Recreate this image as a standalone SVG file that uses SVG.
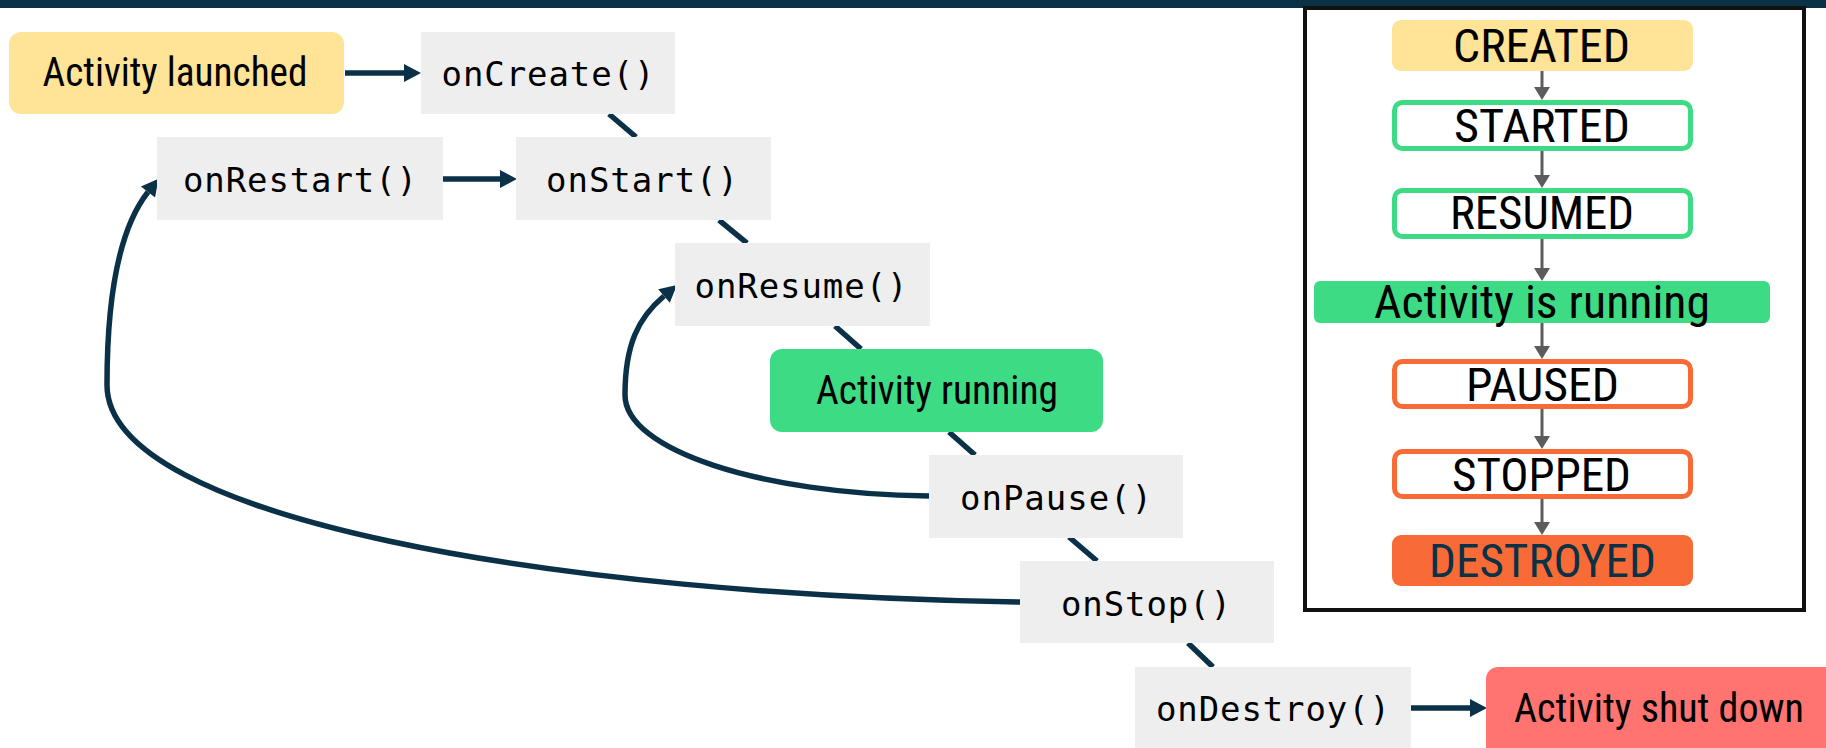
<svg xmlns="http://www.w3.org/2000/svg" width="1826" height="748" viewBox="0 0 1826 748">
  <style>
    .method rect { fill: #eeeeee; }
    .method text { font-family: "DejaVu Sans Mono", "Liberation Mono", monospace; font-size: 34px; fill: #000; text-anchor: middle; }
    .label { font-family: "Roboto Condensed", Roboto, "Liberation Sans", sans-serif; font-size: 40px; fill: #000; text-anchor: middle; }
    .state { font-family: "Roboto Condensed", Roboto, "Liberation Sans", sans-serif; font-size: 46px; fill: #000; text-anchor: middle; }
    .flow { fill: none; stroke: #0a3147; stroke-width: 5.5; }
    .step { fill: none; stroke: #5c5c5c; stroke-width: 3; }
    .green-outline { fill: #ffffff; stroke: #3ddc84; stroke-width: 5; }
    .orange-outline { fill: #ffffff; stroke: #f96b36; stroke-width: 5; }
  </style>
  <defs>
    <marker id="head" markerUnits="userSpaceOnUse" markerWidth="17" markerHeight="18" refX="0" refY="9" orient="auto" overflow="visible">
      <path d="M0,0 L17,9 L0,18 z" fill="#0a3147"/>
    </marker>
    <marker id="head-gray" markerUnits="userSpaceOnUse" markerWidth="16" markerHeight="16" refX="0" refY="8" orient="auto" overflow="visible">
      <path d="M0,0 L13,8 L0,16 z" fill="#5c5c5c"/>
    </marker>
  </defs>

  <rect x="0" y="0" width="1826" height="748" fill="#ffffff"/>
  <!-- header band -->
  <rect x="0" y="0" width="1826" height="8" fill="#0b3147"/>

  <!-- connectors -->
  <g id="connectors">
    <line class="flow" x1="609" y1="114" x2="636" y2="137"/>
    <line class="flow" x1="719" y1="220" x2="747" y2="243"/>
    <line class="flow" x1="835" y1="326" x2="861" y2="349"/>
    <line class="flow" x1="949" y1="432" x2="975" y2="455"/>
    <line class="flow" x1="1069" y1="537" x2="1097" y2="561"/>
    <line class="flow" x1="1188" y1="643" x2="1213" y2="667"/>
    <line class="flow" x1="345" y1="73" x2="404" y2="73" marker-end="url(#head)"/>
    <line class="flow" x1="443" y1="179" x2="500" y2="179" marker-end="url(#head)"/>
    <line class="flow" x1="1411" y1="708" x2="1470" y2="708" marker-end="url(#head)"/>
    <path class="flow" d="M1020,602 C560,595 107,520 107,385 C107,300 118,230 148,192" marker-end="url(#head)"/>
    <path class="flow" d="M929,496 C760,494 625,450 625,395 C625,345 638,318 664,296" marker-end="url(#head)"/>
  </g>

  <g id="activity-launched">
    <rect x="9" y="32" width="335" height="82" rx="12" fill="#ffe396"/>
    <text class="label" x="175" y="86" textLength="265" lengthAdjust="spacingAndGlyphs">Activity launched</text>
  </g>
  <g id="on-create" class="method">
    <rect x="421" y="32" width="254" height="82"/>
    <text x="548" y="86" textLength="213" lengthAdjust="spacing">onCreate()</text>
  </g>
  <g id="on-restart" class="method">
    <rect x="157" y="137" width="286" height="83"/>
    <text x="300" y="192" textLength="234" lengthAdjust="spacing">onRestart()</text>
  </g>
  <g id="on-start" class="method">
    <rect x="516" y="137" width="255" height="83"/>
    <text x="642" y="192" textLength="192" lengthAdjust="spacing">onStart()</text>
  </g>
  <g id="on-resume" class="method">
    <rect x="675" y="243" width="255" height="83"/>
    <text x="801" y="298" textLength="213" lengthAdjust="spacing">onResume()</text>
  </g>
  <g id="activity-running">
    <rect x="770" y="349" width="333" height="83" rx="12" fill="#3ddc84"/>
    <text class="label" x="937" y="404" textLength="242" lengthAdjust="spacingAndGlyphs">Activity running</text>
  </g>
  <g id="on-pause" class="method">
    <rect x="929" y="455" width="254" height="83"/>
    <text x="1056" y="510" textLength="192" lengthAdjust="spacing">onPause()</text>
  </g>
  <g id="on-stop" class="method">
    <rect x="1020" y="561" width="254" height="82"/>
    <text x="1146" y="616" textLength="170" lengthAdjust="spacing">onStop()</text>
  </g>
  <g id="on-destroy" class="method">
    <rect x="1135" y="667" width="276" height="90"/>
    <text x="1273" y="721" textLength="234" lengthAdjust="spacing">onDestroy()</text>
  </g>
  <g id="activity-shut-down">
    <rect x="1486" y="667" width="360" height="95" rx="12" fill="#ff7470"/>
    <text class="label" x="1659" y="722" textLength="290" lengthAdjust="spacingAndGlyphs">Activity shut down</text>
  </g>

  <!-- state legend -->
  <g id="state-legend">
    <rect x="1305" y="8" width="499" height="602" fill="#ffffff" stroke="#111111" stroke-width="4"/>
    <g id="legend-steps">
      <line class="step" x1="1542" y1="71" x2="1542" y2="87" marker-end="url(#head-gray)"/>
      <line class="step" x1="1542" y1="151" x2="1542" y2="175" marker-end="url(#head-gray)"/>
      <line class="step" x1="1542" y1="239" x2="1542" y2="268" marker-end="url(#head-gray)"/>
      <line class="step" x1="1542" y1="323" x2="1542" y2="346" marker-end="url(#head-gray)"/>
      <line class="step" x1="1542" y1="409" x2="1542" y2="436" marker-end="url(#head-gray)"/>
      <line class="step" x1="1542" y1="499" x2="1542" y2="522" marker-end="url(#head-gray)"/>
    </g>
    <g id="state-created">
      <rect x="1392" y="20" width="301" height="51" rx="9" fill="#ffe396"/>
      <text class="state" x="1541.5" y="62" textLength="177" lengthAdjust="spacingAndGlyphs">CREATED</text>
    </g>
    <g id="state-started">
      <rect class="green-outline" x="1394.5" y="102.5" width="296" height="46" rx="8"/>
      <text class="state" x="1542" y="142" textLength="176" lengthAdjust="spacingAndGlyphs">STARTED</text>
    </g>
    <g id="state-resumed">
      <rect class="green-outline" x="1394.5" y="190.5" width="296" height="46" rx="8"/>
      <text class="state" x="1542" y="229" textLength="184" lengthAdjust="spacingAndGlyphs">RESUMED</text>
    </g>
    <g id="state-running">
      <rect x="1314" y="281" width="456" height="42" rx="6" fill="#3ddc84"/>
      <text class="state" x="1542" y="318" textLength="336" lengthAdjust="spacingAndGlyphs">Activity is running</text>
    </g>
    <g id="state-paused">
      <rect class="orange-outline" x="1394.5" y="361.5" width="296" height="45" rx="8"/>
      <text class="state" x="1542.5" y="401" textLength="153" lengthAdjust="spacingAndGlyphs">PAUSED</text>
    </g>
    <g id="state-stopped">
      <rect class="orange-outline" x="1394.5" y="451.5" width="296" height="45" rx="8"/>
      <text class="state" x="1541.5" y="491" textLength="179" lengthAdjust="spacingAndGlyphs">STOPPED</text>
    </g>
    <g id="state-destroyed">
      <rect x="1392" y="535" width="301" height="51" rx="9" fill="#f96b36"/>
      <text class="state" x="1542.5" y="577" textLength="227" lengthAdjust="spacingAndGlyphs" style="fill:#0b3147">DESTROYED</text>
    </g>
  </g>
</svg>
